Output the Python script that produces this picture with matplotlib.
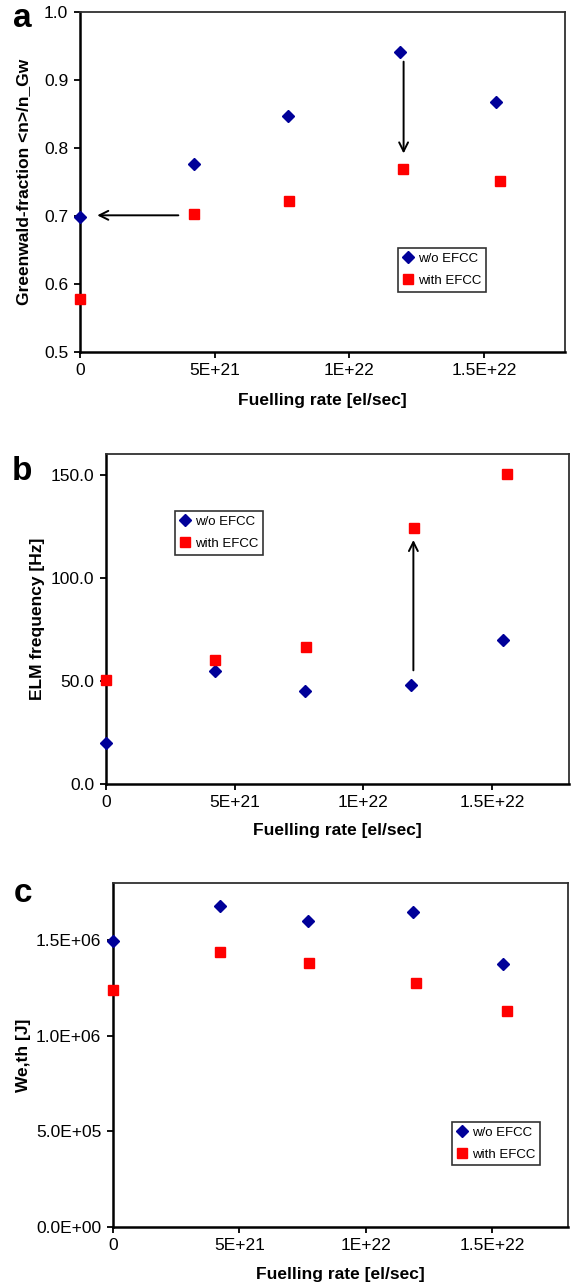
import matplotlib
matplotlib.use("Agg")
import matplotlib.pyplot as plt
from matplotlib.ticker import FixedLocator, FixedFormatter, FuncFormatter

plt.rcParams['font.family'] = ['Liberation Sans', 'DejaVu Sans']

# ---------------- data ----------------
fuel_wo = [0.0, 4.24e21, 7.73e21, 11.87e21, 15.43e21]
fuel_with = [0.0, 4.22e21, 7.77e21, 11.99e21, 15.60e21]

greenwald_wo = [0.698, 0.776, 0.847, 0.941, 0.867]
greenwald_with = [0.578, 0.703, 0.722, 0.769, 0.752]

elm_wo = [20.0, 54.9, 45.2, 47.8, 70.0]
elm_with = [50.2, 60.1, 66.4, 124.1, 150.2]

weth_wo = [1.495e6, 1.682e6, 1.600e6, 1.647e6, 1.377e6]
weth_with = [1.240e6, 1.440e6, 1.381e6, 1.275e6, 1.130e6]

x_ticks = [0, 5e21, 1e22, 1.5e22]
x_ticklabels = ["0", "5E+21", "1E+22", "1.5E+22"]
series_labels = ["w/o EFCC", "with EFCC"]
panel_letters = ["a", "b", "c"]
ylabels = ["Greenwald-fraction <n>/n_Gw", "ELM frequency [Hz]", "We,th [J]"]
xlabel = "Fuelling rate [el/sec]"

BLUE = "#000099"
RED = "#FF0000"

W, H = 573, 1285
fig = plt.figure(figsize=(W / 100, H / 100), dpi=100)


def px_axes(left, right, top, bottom):
    return fig.add_axes([left / W, 1 - bottom / H, (right - left) / W, (bottom - top) / H])


axes_px = [(80, 565, 12, 352), (106, 569, 454, 784), (113, 568, 883, 1227)]
ylims = [(0.5, 1.0), (0.0, 160.0), (0.0, 1.8e6)]
yticks = [[0.5, 0.6, 0.7, 0.8, 0.9, 1.0], [0, 50, 100, 150], [0, 5e5, 1e6, 1.5e6]]
yfmts = [lambda v, p: f"{v:.1f}", lambda v, p: f"{v:.1f}", lambda v, p: f"{v:.1E}"]
ydata = [(greenwald_wo, greenwald_with), (elm_wo, elm_with), (weth_wo, weth_with)]
legend_anchor = [(0.656, 0.306), (0.150, 0.827), (0.745, 0.306)]
ylabel_x = [24, 38, 24]
xlabel_y = [401, 831, 1275]
letter_pos = [(22, 27), (22, 480), (23, 902)]

for i, (l, r, t, b) in enumerate(axes_px):
    ax = px_axes(l, r, t, b)
    ax.plot(fuel_wo, ydata[i][0], linestyle='none', marker='D', ms=5.8,
            color=BLUE, mec=BLUE, label=series_labels[0], clip_on=False, zorder=3)
    ax.plot(fuel_with, ydata[i][1], linestyle='none', marker='s', ms=7.3,
            color=RED, mec=RED, label=series_labels[1], clip_on=False, zorder=3)
    ax.set_xlim(0, 1.8e22)
    ax.set_ylim(*ylims[i])
    ax.xaxis.set_major_locator(FixedLocator(x_ticks))
    ax.xaxis.set_major_formatter(FixedFormatter(x_ticklabels))
    ax.yaxis.set_major_locator(FixedLocator(yticks[i]))
    ax.yaxis.set_major_formatter(FuncFormatter(yfmts[i]))
    ax.tick_params(axis='both', direction='out', length=4.5, width=1.3,
                   labelsize=12.5, pad=4, colors='black')
    ax.tick_params(axis='x', pad=3.5)
    for s in ('left', 'bottom'):
        ax.spines[s].set_linewidth(1.8)
        ax.spines[s].set_color('black')
    for s in ('top', 'right'):
        ax.spines[s].set_linewidth(1.3)
        ax.spines[s].set_color('#303030')
    leg = ax.legend(loc='upper left', bbox_to_anchor=legend_anchor[i],
                    borderaxespad=0, fontsize=9.5, frameon=True, fancybox=False,
                    handlelength=0.8, handletextpad=0.35, borderpad=0.35,
                    labelspacing=0.75, numpoints=1)
    leg.get_frame().set_edgecolor('black')
    leg.get_frame().set_linewidth(1.2)

    cy = (t + b) / 2
    fig.text(ylabel_x[i] / W, 1 - cy / H, ylabels[i], rotation=90, ha='center',
             va='center', fontsize=12.5, fontweight='bold')
    fig.text(((l + r) / 2) / W, 1 - xlabel_y[i] / H, xlabel, ha='center',
             va='center', fontsize=12.5, fontweight='bold')
    fig.text(letter_pos[i][0] / W, 1 - letter_pos[i][1] / H, panel_letters[i],
             ha='center', va='baseline', fontsize=24, fontweight='bold')

    if i == 0:
        ax.annotate('', xy=(0.64e21, 0.701), xytext=(3.65e21, 0.701),
                    arrowprops=dict(arrowstyle='->', lw=1.4, color='black',
                                    mutation_scale=16, shrinkA=0, shrinkB=0))
        ax.annotate('', xy=(12.01e21, 0.792), xytext=(12.01e21, 0.927),
                    arrowprops=dict(arrowstyle='->', lw=1.4, color='black',
                                    mutation_scale=16, shrinkA=0, shrinkB=0))
    if i == 1:
        ax.annotate('', xy=(11.95e21, 118.3), xytext=(11.95e21, 55.1),
                    arrowprops=dict(arrowstyle='->', lw=1.4, color='black',
                                    mutation_scale=16, shrinkA=0, shrinkB=0))

fig.savefig('out.png', dpi=100)
